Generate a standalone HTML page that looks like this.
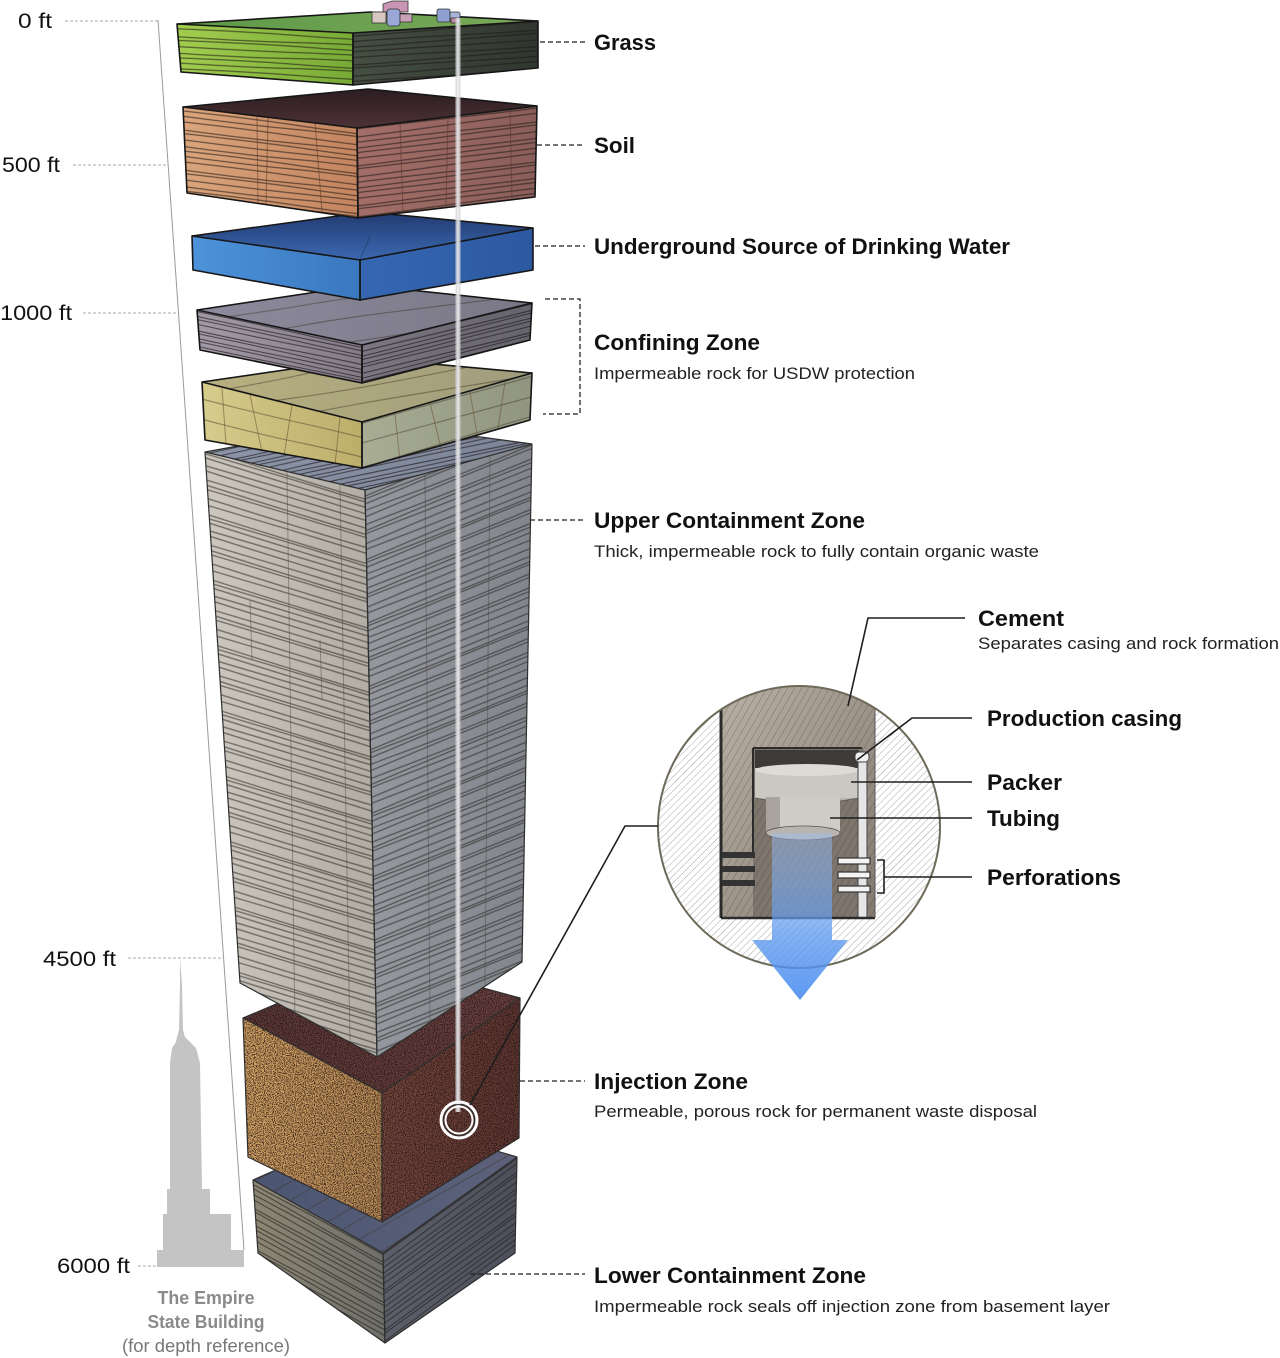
<!DOCTYPE html>
<html><head><meta charset="utf-8"><style>
html,body{margin:0;padding:0;background:#fff;}
svg{display:block;}
text{font-family:"Liberation Sans",Arial,sans-serif;}
.t{font-weight:bold;font-size:22px;fill:#111;}
.s{font-size:17px;fill:#222;}
.d{font-size:21px;fill:#111;}
.e{fill:none;stroke:#161616;stroke-width:1.6;stroke-linejoin:round;}
.e2{fill:none;stroke:#2e2e2e;stroke-width:1.2;stroke-linejoin:round;}
.ld{fill:none;stroke:#222;stroke-width:1.3;stroke-dasharray:5 3;}
.sc{fill:none;stroke:#aaa;stroke-width:1;stroke-dasharray:3 2;}
.ll{fill:none;stroke:#1e1e1e;stroke-width:1.6;}
</style></head><body>
<svg width="1280" height="1358" viewBox="0 0 1280 1358" xmlns="http://www.w3.org/2000/svg" xmlns:xlink="http://www.w3.org/1999/xlink">
<defs>
<linearGradient id="grL"><stop offset="0" stop-color="#a2cd4f"/><stop offset="1" stop-color="#78aa36"/></linearGradient>
<linearGradient id="grR"><stop offset="0" stop-color="#454f42"/><stop offset="1" stop-color="#30362f"/></linearGradient>
<linearGradient id="grT"><stop offset="0" stop-color="#5d9947"/><stop offset="1" stop-color="#7aa95a"/></linearGradient>
<linearGradient id="soL"><stop offset="0" stop-color="#daa57c"/><stop offset="1" stop-color="#c3845f"/></linearGradient>
<linearGradient id="soR"><stop offset="0" stop-color="#a46e68"/><stop offset="1" stop-color="#8a5e5a"/></linearGradient>
<linearGradient id="soT" x1="0" y1="0" x2="0" y2="1"><stop offset="0" stop-color="#2b1d20"/><stop offset="1" stop-color="#4d3236"/></linearGradient>
<linearGradient id="blL"><stop offset="0" stop-color="#4c93da"/><stop offset="1" stop-color="#3a78c0"/></linearGradient>
<linearGradient id="blR"><stop offset="0" stop-color="#3667b2"/><stop offset="1" stop-color="#2c58a0"/></linearGradient>
<linearGradient id="blT" x1="0" y1="0" x2="0" y2="1"><stop offset="0" stop-color="#22396f"/><stop offset="1" stop-color="#3b69b3"/></linearGradient>
<linearGradient id="c1L"><stop offset="0" stop-color="#a29aa5"/><stop offset="1" stop-color="#837b86"/></linearGradient>
<linearGradient id="c1R"><stop offset="0" stop-color="#7c7782"/><stop offset="1" stop-color="#65636b"/></linearGradient>
<linearGradient id="c1T"><stop offset="0" stop-color="#8d8a9d"/><stop offset="1" stop-color="#7a7886"/></linearGradient>
<linearGradient id="yeL"><stop offset="0" stop-color="#d6cc8c"/><stop offset="1" stop-color="#bcad6a"/></linearGradient>
<linearGradient id="yeR"><stop offset="0" stop-color="#a8ad94"/><stop offset="1" stop-color="#90957f"/></linearGradient>
<linearGradient id="yeT"><stop offset="0" stop-color="#b8b080"/><stop offset="1" stop-color="#a09c7c"/></linearGradient>
<linearGradient id="upL"><stop offset="0" stop-color="#cbc7be"/><stop offset="1" stop-color="#b0aca3"/></linearGradient>
<linearGradient id="upR"><stop offset="0" stop-color="#95989e"/><stop offset="1" stop-color="#82858c"/></linearGradient>
<linearGradient id="upT"><stop offset="0" stop-color="#8c94a8"/><stop offset="1" stop-color="#7b8396"/></linearGradient>
<linearGradient id="inL"><stop offset="0" stop-color="#d2a264"/><stop offset="1" stop-color="#b88a56"/></linearGradient>
<linearGradient id="inR"><stop offset="0" stop-color="#76463e"/><stop offset="1" stop-color="#5f3632"/></linearGradient>
<linearGradient id="inT"><stop offset="0" stop-color="#5b3838"/><stop offset="1" stop-color="#6c4242"/></linearGradient>
<linearGradient id="loL"><stop offset="0" stop-color="#8c8774"/><stop offset="1" stop-color="#6f6f69"/></linearGradient>
<linearGradient id="loR"><stop offset="0" stop-color="#5c5e6a"/><stop offset="1" stop-color="#4d4f5b"/></linearGradient>
<linearGradient id="loT"><stop offset="0" stop-color="#4b5572"/><stop offset="1" stop-color="#5c627a"/></linearGradient>
<linearGradient id="arrow" x1="0" y1="0" x2="0" y2="1"><stop offset="0" stop-color="#9cc0f2" stop-opacity=".45"/><stop offset=".6" stop-color="#5b98ee" stop-opacity=".75"/><stop offset="1" stop-color="#4a8cf0" stop-opacity=".9"/></linearGradient>
<linearGradient id="cem" x1="0" y1="0" x2="1" y2="1"><stop offset="0" stop-color="#b9b1a6"/><stop offset="1" stop-color="#857a70"/></linearGradient>

<pattern id="s1" width="300" height="40" patternUnits="userSpaceOnUse">
<g fill="none" stroke="#1c1714" stroke-opacity=".6" stroke-width="1.2">
<path d="M0,3 C90,0 200,7 300,3"/><path d="M0,9 C100,12 200,6 300,9"/><path d="M0,13 C80,11 220,16 300,13"/>
<path d="M0,20 C100,23 190,17 300,20"/><path d="M0,27 C110,24 200,30 300,27"/><path d="M0,31 C90,34 210,29 300,31"/>
<path d="M0,37 C100,35 200,39 300,37"/></g></pattern>
<pattern id="s2" width="300" height="22" patternUnits="userSpaceOnUse">
<g fill="none" stroke="#1e1a1c" stroke-opacity=".7" stroke-width="1.1">
<path d="M0,2 C90,0 200,5 300,2"/><path d="M0,6 C100,8 200,4 300,6"/><path d="M0,10 C80,9 220,12 300,10"/>
<path d="M0,14 C100,16 190,12 300,14"/><path d="M0,18 C110,16 200,20 300,18"/></g></pattern>
<pattern id="s3" width="400" height="64" patternUnits="userSpaceOnUse">
<g fill="none" stroke="#2a2622" stroke-opacity=".55" stroke-width="1.4">
<path d="M0,3 C120,0 260,6 400,3"/><path d="M0,7 C130,10 270,4 400,7"/><path d="M0,11 C140,8 260,14 400,11"/>
<path d="M0,19 C100,23 300,15 400,19"/><path d="M0,24 C150,21 250,27 400,24"/><path d="M0,33 C120,36 280,30 400,33"/>
<path d="M0,38 C140,35 260,41 400,38"/><path d="M0,42 C100,45 300,40 400,42"/><path d="M0,51 C130,48 270,54 400,51"/>
<path d="M0,58 C120,61 280,55 400,58"/></g></pattern>
<pattern id="s4" width="300" height="60" patternUnits="userSpaceOnUse">
<g fill="none" stroke="#3a3020" stroke-opacity=".5" stroke-width="1.1">
<path d="M0,8 C90,4 200,12 300,8"/><path d="M0,30 C100,34 200,26 300,30"/><path d="M0,48 C110,45 200,51 300,48"/></g></pattern>

<pattern id="gLs" xlink:href="#s1" patternTransform="skewY(3)"/>
<pattern id="gRs" xlink:href="#s1" patternTransform="skewY(-4)"/>
<pattern id="soLs" xlink:href="#s1" patternTransform="skewY(7)"/>
<pattern id="soRs" xlink:href="#s1" patternTransform="skewY(-7)"/>
<pattern id="c1Ls" xlink:href="#s2" patternTransform="skewY(12)"/>
<pattern id="c1Rs" xlink:href="#s2" patternTransform="skewY(-14)"/>
<pattern id="c1Ts" xlink:href="#s4" patternTransform="skewY(-8)"/>
<pattern id="yLs" xlink:href="#s4" patternTransform="skewY(14)"/>
<pattern id="yRs" xlink:href="#s4" patternTransform="skewY(-16)"/>
<pattern id="yTs" xlink:href="#s4" patternTransform="skewY(-10)"/>
<pattern id="uLs" xlink:href="#s3" patternTransform="skewY(17)"/>
<pattern id="uRs" xlink:href="#s3" patternTransform="skewY(-22)"/>
<pattern id="uTs" xlink:href="#s2" patternTransform="skewY(-12)"/>
<pattern id="lLs" xlink:href="#s1" patternTransform="skewY(29)"/>
<pattern id="lRs" xlink:href="#s1" patternTransform="skewY(-36)"/>
<pattern id="lTs" xlink:href="#s4" patternTransform="skewY(-30)"/>

<pattern id="hatch" width="5" height="5" patternUnits="userSpaceOnUse" patternTransform="rotate(45)">
<line x1="0" y1="0" x2="0" y2="5" stroke="#9c9c9c" stroke-width=".9"/></pattern>
<pattern id="hatch2" width="6" height="6" patternUnits="userSpaceOnUse" patternTransform="rotate(30)">
<line x1="0" y1="0" x2="0" y2="6" stroke="#3a342e" stroke-opacity=".45" stroke-width="1"/></pattern>

<filter id="grain" x="0" y="0" width="1" height="1" color-interpolation-filters="sRGB">
<feTurbulence type="fractalNoise" baseFrequency="0.9" numOctaves="2" seed="4"/>
<feColorMatrix type="matrix" values="0 0 0 0 0.12  0 0 0 0 0.07  0 0 0 0 0.06  6 0 0 0 -2.8"/>
</filter>
<clipPath id="injClip">
<polygon points="243,1018 380,960 520,998 382,1093"/>
<polygon points="243,1018 382,1093 382,1222 248,1157"/>
<polygon points="382,1093 520,998 519,1138 382,1222"/>
</clipPath>
<clipPath id="circ"><circle cx="799" cy="827" r="141"/></clipPath>
</defs>

<!-- depth scale -->
<line x1="158" y1="20" x2="244" y2="1250" stroke="#9a9a9a" stroke-width="1"/>
<line class="sc" x1="65" y1="21" x2="158" y2="21"/>
<line class="sc" x1="73" y1="165" x2="168" y2="165"/>
<line class="sc" x1="83" y1="313" x2="178" y2="313"/>
<line class="sc" x1="128" y1="958" x2="222" y2="958"/>
<line class="sc" x1="138" y1="1266" x2="244" y2="1266"/>
<text class="d" x="18" y="28" textLength="34" lengthAdjust="spacingAndGlyphs">0 ft</text>
<text class="d" x="2" y="172" textLength="58" lengthAdjust="spacingAndGlyphs">500 ft</text>
<text class="d" x="0" y="320" textLength="72" lengthAdjust="spacingAndGlyphs">1000 ft</text>
<text class="d" x="43" y="966" textLength="73" lengthAdjust="spacingAndGlyphs">4500 ft</text>
<text class="d" x="57" y="1273" textLength="73" lengthAdjust="spacingAndGlyphs">6000 ft</text>

<!-- Empire State Building -->
<polygon fill="#c4c4c4" points="157,1267 157,1250 163,1250 163,1214 167,1214 167,1189 170,1189 170,1063 172,1048 176,1042 177,1037 179,1030 180,985 180,958 182,985 183,1030 185,1037 190,1042 196,1048 200,1063 202,1189 210,1189 210,1214 231,1214 231,1250 244,1250 244,1267"/>
<text x="206" y="1304" text-anchor="middle" font-weight="bold" font-size="18" fill="#8a8a8a" textLength="97" lengthAdjust="spacingAndGlyphs">The Empire</text>
<text x="206" y="1328" text-anchor="middle" font-weight="bold" font-size="18" fill="#8a8a8a" textLength="117" lengthAdjust="spacingAndGlyphs">State Building</text>
<text x="206" y="1352" text-anchor="middle" font-size="18" fill="#777" textLength="168" lengthAdjust="spacingAndGlyphs">(for depth reference)</text>

<!-- LOWER CONTAINMENT -->
<g>
<polygon points="253,1180 390,1120 517,1157 383,1253" fill="url(#loT)"/>
<polygon points="253,1180 390,1120 517,1157 383,1253" fill="url(#lTs)"/>
<polygon points="253,1180 383,1253 385,1343 258,1253" fill="url(#loL)"/>
<polygon points="253,1180 383,1253 385,1343 258,1253" fill="url(#lLs)"/>
<polygon points="383,1253 517,1157 515,1253 385,1343" fill="url(#loR)"/>
<polygon points="383,1253 517,1157 515,1253 385,1343" fill="url(#lRs)"/>
<polygon class="e2" points="253,1180 383,1253 385,1343 258,1253"/>
<polygon class="e2" points="383,1253 517,1157 515,1253 385,1343"/>
<polyline class="e2" points="253,1180 390,1120 517,1157"/>
</g>

<!-- INJECTION -->
<g>
<polygon points="243,1018 380,960 520,998 382,1093" fill="url(#inT)"/>
<polygon points="243,1018 382,1093 382,1222 248,1157" fill="url(#inL)"/>
<polygon points="382,1093 520,998 519,1138 382,1222" fill="url(#inR)"/>
<g clip-path="url(#injClip)"><rect x="240" y="958" width="285" height="268" filter="url(#grain)" opacity=".8"/></g>
<polygon class="e2" points="243,1018 382,1093 382,1222 248,1157"/>
<polygon class="e2" points="382,1093 520,998 519,1138 382,1222"/>
<polyline class="e2" points="243,1018 380,960 520,998"/>
</g>

<!-- UPPER CONTAINMENT -->
<g>
<polygon points="205,452 370,422 532,444 365,490" fill="url(#upT)"/>
<polygon points="205,452 370,422 532,444 365,490" fill="url(#uTs)"/>
<polygon points="205,452 365,490 377,1057 240,983" fill="url(#upL)"/>
<polygon points="205,452 365,490 377,1057 240,983" fill="url(#uLs)"/>
<polygon points="365,490 532,444 522,962 377,1057" fill="url(#upR)"/>
<polygon points="365,490 532,444 522,962 377,1057" fill="url(#uRs)"/>
<g stroke="#4a4540" stroke-opacity=".45" stroke-width="1" fill="none">
<path d="M287,472 L295,1025"/><path d="M340,485 L350,1040"/><path d="M425,475 L430,1020"/><path d="M490,456 L485,985"/>
<path d="M250,600 L252,660"/><path d="M320,640 L322,700"/></g>
<polygon class="e2" points="205,452 365,490 377,1057 240,983"/>
<polygon class="e2" points="365,490 532,444 522,962 377,1057"/>
<polyline class="e2" points="205,452 370,422 532,444"/>
</g>

<!-- YELLOW (confining 2) -->
<g>
<polygon points="202,382 367,358 532,373 362,422" fill="url(#yeT)"/>
<polygon points="202,382 367,358 532,373 362,422" fill="url(#yTs)"/>
<polygon points="202,382 362,422 362,468 205,440" fill="url(#yeL)"/>
<polygon points="202,382 362,422 362,468 205,440" fill="url(#yLs)"/>
<polygon points="362,422 532,373 530,420 362,468" fill="url(#yeR)"/>
<polygon points="362,422 532,373 530,420 362,468" fill="url(#yRs)"/>
<g stroke="#6a5030" stroke-opacity=".55" stroke-width="1" fill="none">
<path d="M222,388 L226,444"/><path d="M250,395 L262,452"/><path d="M292,405 L284,456"/><path d="M340,417 L335,465"/>
<path d="M395,413 L400,462"/><path d="M430,403 L442,452"/><path d="M470,392 L478,440"/><path d="M505,382 L498,428"/></g>
<polygon class="e" points="202,382 362,422 362,468 205,440"/>
<polygon class="e" points="362,422 532,373 530,420 362,468"/>
<polyline class="e" points="202,382 367,358 532,373"/>
</g>

<!-- CONFINING 1 -->
<g>
<polygon points="197,310 363,285 532,303 362,345" fill="url(#c1T)"/>
<polygon points="197,310 363,285 532,303 362,345" fill="url(#c1Ts)"/>
<polygon points="197,310 362,345 362,383 200,350" fill="url(#c1L)"/>
<polygon points="197,310 362,345 362,383 200,350" fill="url(#c1Ls)"/>
<polygon points="362,345 532,303 530,340 362,383" fill="url(#c1R)"/>
<polygon points="362,345 532,303 530,340 362,383" fill="url(#c1Rs)"/>
<polygon class="e" points="197,310 362,345 362,383 200,350"/>
<polygon class="e" points="362,345 532,303 530,340 362,383"/>
<polyline class="e" points="197,310 363,285 532,303"/>
</g>

<!-- BLUE (USDW) -->
<g>
<polygon points="192,236 367,212 533,228 360,260" fill="url(#blT)"/>
<polygon points="192,236 360,260 360,300 193,270" fill="url(#blL)"/>
<polygon points="360,260 533,228 533,270 360,300" fill="url(#blR)"/>
<path d="M370,235 C368,245 362,252 360,260" stroke="#1d2f5a" stroke-opacity=".5" fill="none"/>
<polygon class="e" points="192,236 360,260 360,300 193,270"/>
<polygon class="e" points="360,260 533,228 533,270 360,300"/>
<polyline class="e" points="192,236 367,212 533,228"/>
</g>

<!-- SOIL -->
<g>
<polygon points="183,107 368,89 537,106 357,128" fill="url(#soT)"/>
<polygon points="183,107 357,128 358,218 187,193" fill="url(#soL)"/>
<polygon points="183,107 357,128 358,218 187,193" fill="url(#soLs)"/>
<polygon points="357,128 537,106 535,197 358,218" fill="url(#soR)"/>
<polygon points="357,128 537,106 535,197 358,218" fill="url(#soRs)"/>
<g stroke="#5a3424" stroke-opacity=".55" stroke-width="1" fill="none">
<path d="M257,117 L258,202"/><path d="M268,118 L266,204"/><path d="M315,122 L322,212"/>
<path d="M400,123 L403,213"/><path d="M448,117 L446,208"/><path d="M510,110 L512,200"/></g>
<polygon class="e" points="183,107 357,128 358,218 187,193"/>
<polygon class="e" points="357,128 537,106 535,197 358,218"/>
<polyline class="e" points="183,107 368,89 537,106"/>
</g>

<!-- GRASS -->
<g>
<polygon points="177,24 370,12 538,21 353,33" fill="url(#grT)"/>
<polygon points="177,24 353,33 353,85 181,72" fill="url(#grL)"/>
<polygon points="177,24 353,33 353,85 181,72" fill="url(#gLs)"/>
<polygon points="353,33 538,21 538,68 353,85" fill="url(#grR)"/>
<polygon points="353,33 538,21 538,68 353,85" fill="url(#gRs)"/>
<polygon class="e" points="177,24 353,33 353,85 181,72"/>
<polygon class="e" points="353,33 538,21 538,68 353,85"/>
<polyline class="e" points="177,24 370,12 538,21"/>
</g>

<!-- facility -->
<g stroke="#333" stroke-width=".8">
<path d="M383,12 L383,4 L392,1 L408,1 L408,12 Z" fill="#c896b4"/>
<rect x="372" y="12" width="14" height="11" fill="#d8c6c0"/>
<rect x="387" y="9" width="13" height="17" rx="3" fill="#9aa8d8"/>
<rect x="400" y="14" width="12" height="8" fill="#c8a0b8"/>
<rect x="437" y="9" width="13" height="13" rx="2" fill="#8fa0d0"/>
<rect x="450" y="12" width="10" height="10" rx="2" fill="#a8b4dc"/>
<rect x="451" y="18" width="9" height="5" fill="#c08aa8"/>
</g>

<!-- well pipe -->
<line x1="458" y1="18" x2="458" y2="1112" stroke="#d6d6da" stroke-opacity=".8" stroke-width="5"/>
<line x1="458" y1="18" x2="458" y2="1112" stroke="#ffffff" stroke-opacity=".55" stroke-width="1.5"/>

<!-- injection marker -->
<circle cx="459" cy="1120" r="18" fill="none" stroke="#fff" stroke-width="3"/>
<circle cx="459" cy="1120" r="15.5" fill="none" stroke="#333" stroke-width="1"/>
<circle cx="459" cy="1120" r="13.5" fill="none" stroke="#fff" stroke-width="2"/>

<!-- leaders right -->
<line class="ld" x1="540" y1="42" x2="585" y2="42"/>
<line class="ld" x1="537" y1="145" x2="585" y2="145"/>
<line class="ld" x1="535" y1="246" x2="585" y2="246"/>
<path class="ld" d="M545,299 H580 V414 H543"/>
<line class="ld" x1="530" y1="520" x2="585" y2="520"/>
<line class="ld" x1="520" y1="1081" x2="585" y2="1081"/>
<line class="ld" x1="470" y1="1274" x2="585" y2="1274"/>

<!-- labels right -->
<text class="t" x="594" y="50" textLength="62" lengthAdjust="spacingAndGlyphs">Grass</text>
<text class="t" x="594" y="153" textLength="41" lengthAdjust="spacingAndGlyphs">Soil</text>
<text class="t" x="594" y="254" textLength="416" lengthAdjust="spacingAndGlyphs">Underground Source of Drinking Water</text>
<text class="t" x="594" y="350" textLength="166" lengthAdjust="spacingAndGlyphs">Confining Zone</text>
<text class="s" x="594" y="379" textLength="321" lengthAdjust="spacingAndGlyphs">Impermeable rock for USDW protection</text>
<text class="t" x="594" y="528" textLength="271" lengthAdjust="spacingAndGlyphs">Upper Containment Zone</text>
<text class="s" x="594" y="557" textLength="445" lengthAdjust="spacingAndGlyphs">Thick, impermeable rock to fully contain organic waste</text>
<text class="t" x="594" y="1089" textLength="154" lengthAdjust="spacingAndGlyphs">Injection Zone</text>
<text class="s" x="594" y="1117" textLength="443" lengthAdjust="spacingAndGlyphs">Permeable, porous rock for permanent waste disposal</text>
<text class="t" x="594" y="1283" textLength="272" lengthAdjust="spacingAndGlyphs">Lower Containment Zone</text>
<text class="s" x="594" y="1312" textLength="516" lengthAdjust="spacingAndGlyphs">Impermeable rock seals off injection zone from basement layer</text>

<!-- detail circle -->
<g clip-path="url(#circ)">
<rect x="650" y="680" width="300" height="300" fill="#fff"/>
<rect x="650" y="680" width="300" height="300" fill="url(#hatch)"/>
<rect x="721" y="680" width="154" height="238" fill="url(#cem)"/>
<rect x="721" y="680" width="154" height="238" fill="url(#hatch2)"/>
<rect x="753" y="748" width="110" height="170" fill="#7e756d"/>
<rect x="753" y="748" width="110" height="170" fill="url(#hatch2)"/>
<rect x="755" y="750" width="104" height="22" fill="#3e3a38"/>
<rect x="755" y="768" width="104" height="30" fill="#cbc7c1"/>
<ellipse cx="807" cy="770" rx="52" ry="6" fill="#dedad5"/>
<path d="M755,798 Q807,808 859,798" fill="#b8b3ad" stroke="#555" stroke-width=".8"/>
<rect x="766" y="797" width="74" height="36" fill="#cfcbc5"/>
<rect x="766" y="797" width="14" height="36" fill="#a9a49e"/>
<ellipse cx="803" cy="833" rx="37" ry="7" fill="#b9b4ae" stroke="#555" stroke-width=".8"/>
<rect x="858" y="756" width="9" height="162" fill="#e6e6e6" stroke="#444" stroke-width="1"/>
<rect x="855" y="752" width="14" height="10" rx="4" fill="#f0f0f0" stroke="#444" stroke-width="1"/>
<line x1="721" y1="680" x2="721" y2="918" stroke="#2b2b2b" stroke-width="3"/>
<line x1="753" y1="748" x2="753" y2="852" stroke="#2b2b2b" stroke-width="2"/>
<line x1="753" y1="748" x2="862" y2="748" stroke="#2b2b2b" stroke-width="2"/>
<line x1="721" y1="918" x2="875" y2="918" stroke="#2b2b2b" stroke-width="2.5"/>
<line x1="875" y1="680" x2="875" y2="918" stroke="#555" stroke-width="1"/>
<g fill="#333"><rect x="722" y="852" width="33" height="6"/><rect x="722" y="866" width="33" height="6"/><rect x="722" y="880" width="33" height="6"/></g>
<g fill="#f4f4f4" stroke="#333" stroke-width="1.2"><rect x="838" y="858" width="32" height="6"/><rect x="838" y="872" width="32" height="6"/><rect x="838" y="886" width="32" height="6"/></g>
</g>
<circle cx="799" cy="827" r="141" fill="none" stroke="#6e6a5a" stroke-width="2"/>
<polygon points="772,833 832,833 832,940 848,940 800,1000 752,940 772,940" fill="url(#arrow)"/>

<!-- detail leaders -->
<polyline class="ll" points="965,618 868,618 848,706"/>
<polyline class="ll" points="972,718 912,718 857,760"/>
<line class="ll" x1="851" y1="782" x2="972" y2="782"/>
<line class="ll" x1="830" y1="818" x2="972" y2="818"/>
<path class="ll" d="M877,860 H884 V893 H877 M884,877 H972"/>
<polyline class="ll" points="658,826 625,826 470,1105"/>

<text class="t" x="978" y="626" textLength="86" lengthAdjust="spacingAndGlyphs">Cement</text>
<text class="s" x="978" y="649" textLength="301" lengthAdjust="spacingAndGlyphs">Separates casing and rock formation</text>
<text class="t" x="987" y="726" textLength="195" lengthAdjust="spacingAndGlyphs">Production casing</text>
<text class="t" x="987" y="790" textLength="75" lengthAdjust="spacingAndGlyphs">Packer</text>
<text class="t" x="987" y="826" textLength="73" lengthAdjust="spacingAndGlyphs">Tubing</text>
<text class="t" x="987" y="885" textLength="134" lengthAdjust="spacingAndGlyphs">Perforations</text>
</svg>
</body></html>
